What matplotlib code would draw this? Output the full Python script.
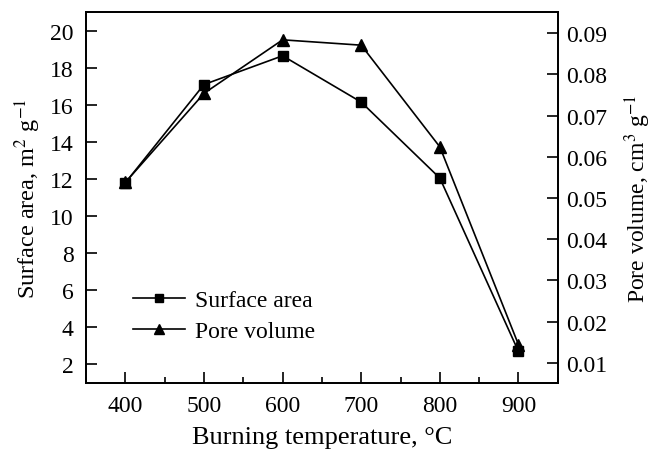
import matplotlib
matplotlib.use('Agg')
import matplotlib.pyplot as plt
from matplotlib.ticker import MultipleLocator

plt.rcParams['font.family'] = ['Liberation Serif', 'DejaVu Serif']
plt.rcParams['mathtext.fontset'] = 'stix'

# data
temps = [400, 500, 600, 700, 800, 900]
surface_area = [11.8, 17.1, 18.65, 16.15, 12.05, 2.7]
pore_volume = [0.0538, 0.0754, 0.0884, 0.0871, 0.0624, 0.0144]

fig = plt.figure(figsize=(6.57, 4.56), dpi=100)
ax = fig.add_axes([0.131, 0.158, 0.718, 0.813])
ax2 = ax.twinx()

l1, = ax.plot(temps, surface_area, color='black', lw=1.2, marker='s', ms=6.5,
              label='Surface area')
l2, = ax2.plot(temps, pore_volume, color='black', lw=1.2, marker='^', ms=8,
               label='Pore volume')

ax.set_xlim(350, 950)
ax.set_ylim(1, 21)
ax2.set_ylim(0.0051, 0.0951)

ax.xaxis.set_major_locator(MultipleLocator(100))
ax.xaxis.set_minor_locator(MultipleLocator(50))
ax.yaxis.set_major_locator(MultipleLocator(2))
ax2.set_yticks([0.01, 0.02, 0.03, 0.04, 0.05, 0.06, 0.07, 0.08, 0.09])
ax2.set_yticklabels(['0.01', '0.02', '0.03', '0.04', '0.05', '0.06', '0.07', '0.08', '0.09'])

ax.tick_params(axis='x', which='major', direction='in', length=8, width=1.2,
               labelsize=17, pad=9, top=False)
ax.tick_params(axis='x', which='minor', direction='in', length=4, width=1.2, top=False)
ax.tick_params(axis='y', direction='in', length=8, width=1.2, labelsize=17, pad=9)
ax2.tick_params(axis='y', direction='in', length=8, width=1.2, labelsize=17, pad=6)

for sp in ax.spines.values():
    sp.set_linewidth(1.3)
for sp in ax2.spines.values():
    sp.set_linewidth(1.3)

ax.set_xlabel('Burning temperature, °C', fontsize=19, labelpad=7)
ax.set_ylabel('Surface area, m$^2$ g$^{-1}$', fontsize=17.5, labelpad=5)
ax2.set_ylabel('Pore volume, cm$^3$ g$^{-1}$', fontsize=17, labelpad=11)

leg = ax.legend([l1, l2], ['Surface area', 'Pore volume'], loc='lower left',
                bbox_to_anchor=(0.1, 0.11), frameon=False, fontsize=17,
                handlelength=2.2, handletextpad=0.4, borderpad=0, borderaxespad=0,
                labelspacing=0.4, markerscale=0.85)

fig.savefig('out.png', dpi=100)
